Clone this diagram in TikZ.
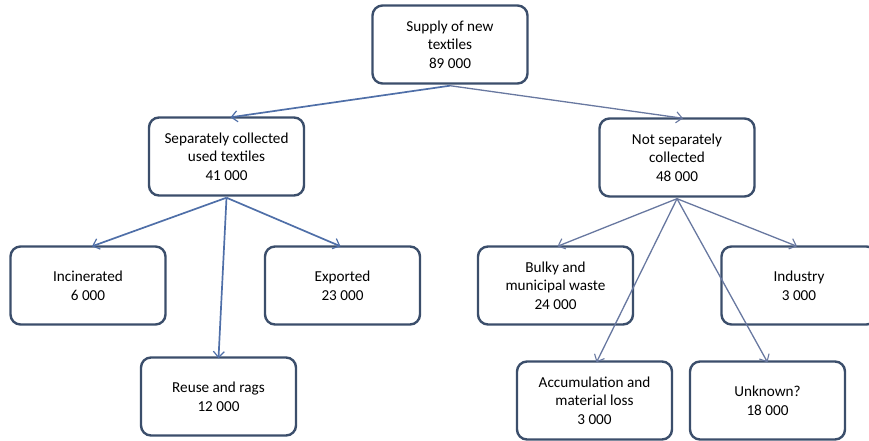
\documentclass[tikz,border=0pt]{standalone}
\usepackage{fontspec}
\setmainfont{Carlito}
\usetikzlibrary{arrows.meta}
\definecolor{boxline}{HTML}{3B4E6B}
\definecolor{flowA}{HTML}{4F6FA8}
\definecolor{flowB}{HTML}{6878A0}
\begin{document}
\begin{tikzpicture}[x=1pt,y=-1pt,
  flowbox/.style={draw=boxline,line width=2.4pt,rounded corners=10pt,fill=white,
    minimum width=155pt,minimum height=78pt,align=center,inner sep=2pt,
    font=\fontsize{15.2}{18.6}\selectfont},
  flow/.style={draw=flowA,line width=1.7pt,-{Straight Barb[length=6pt,width=11pt,line width=1.2pt]}},
  flowthin/.style={draw=flowB,line width=1.3pt,-{Straight Barb[length=6pt,width=11pt,line width=1.1pt]}}]
\useasboundingbox (0,0) rectangle (869,441);
\clip (0,0) rectangle (869,441);
% nodes
\node[flowbox] (supply) at (450,44.5) {Supply of new\\textiles\\89 000};
\node[flowbox] (sep) at (226.5,156.5) {Separately collected\\used textiles\\41 000};
\node[flowbox] (notsep) at (677,157.5) {Not separately\\collected\\48 000};
\node[flowbox] (incin) at (88,285.5) {Incinerated\\6 000};
\node[flowbox] (export) at (342.5,285.5) {Exported\\23 000};
\node[flowbox] (reuse) at (218.5,396.5) {Reuse and rags\\12 000};
\node[flowbox] (bulky) at (555.5,285.5) {Bulky and\\municipal waste\\24 000};
\node[flowbox] (industry) at (799,285.5) {Industry\\3 000};
\node[flowbox] (accum) at (594.5,400.5) {Accumulation and\\material loss\\3 000};
\node[flowbox] (unknown) at (767.5,400.5) {Unknown?\\18 000};
% connectors
\coordinate (s0) at ([yshift=-1pt]supply.south);
\coordinate (s1) at ([yshift=-1pt]sep.south);
\coordinate (s2) at ([yshift=-1pt]notsep.south);
\draw[flow] (s0) -- ([xshift=4pt,yshift=-1pt]sep.north);
\draw[flowthin] (s0) -- ([xshift=6pt,yshift=-1pt]notsep.north);
\draw[flow] (s1) -- ([xshift=4pt,yshift=-1pt]incin.north);
\draw[flow] (s1) -- ([xshift=-2pt,yshift=-1pt]export.north);
\draw[flow] (s1) -- ([yshift=-2pt]reuse.north);
\draw[flowthin] (s2) -- ([xshift=2pt,yshift=-1pt]bulky.north);
\draw[flowthin] (s2) -- ([xshift=-2pt,yshift=-1pt]industry.north);
\draw[flowthin] (s2) -- ([xshift=2pt,yshift=-2pt]accum.north);
\draw[flowthin] (s2) -- ([yshift=-2pt]unknown.north);
\end{tikzpicture}
\end{document}
